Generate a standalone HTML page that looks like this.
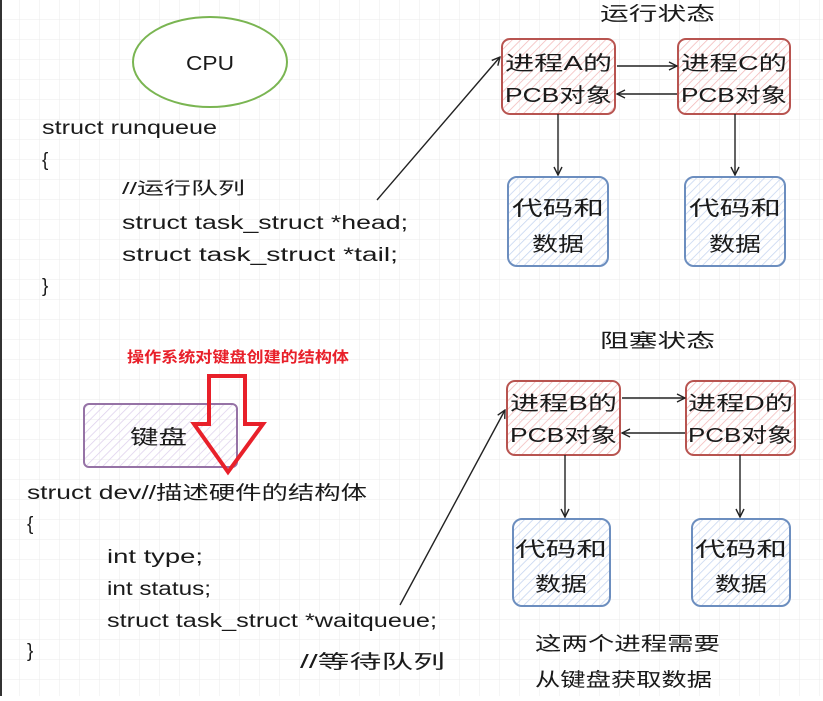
<!DOCTYPE html>
<html><head><meta charset="utf-8"><style>
body{margin:0;width:823px;height:696px;overflow:hidden;background:#fff;}
svg text{font-family:"Liberation Sans","Noto Sans CJK SC",sans-serif;fill:#1a1a1a;}
</style></head><body>
<svg width="823" height="696" viewBox="0 0 823 696" xmlns="http://www.w3.org/2000/svg">
<defs>
<pattern id="g" width="20" height="20" patternUnits="userSpaceOnUse"><path d="M20 0V20M0 20H20" fill="none" stroke="#ebebeb" stroke-width="1"/></pattern>
<pattern id="hr" width="6" height="6" patternUnits="userSpaceOnUse" patternTransform="rotate(45)"><line x1="0" y1="0" x2="0" y2="6" stroke="#f2b8b8" stroke-width="1.5"/></pattern>
<pattern id="hb" width="6" height="6" patternUnits="userSpaceOnUse" patternTransform="rotate(45)"><line x1="0" y1="0" x2="0" y2="6" stroke="#c3d3f0" stroke-width="1.5"/></pattern>
<pattern id="hp" width="6" height="6" patternUnits="userSpaceOnUse" patternTransform="rotate(45)"><line x1="0" y1="0" x2="0" y2="6" stroke="#ddd0ec" stroke-width="1.5"/></pattern>
<marker id="a" markerWidth="10" markerHeight="10" refX="9" refY="5" orient="auto" markerUnits="userSpaceOnUse"><path d="M1 1L9 5L1 9" fill="none" stroke="#222" stroke-width="1.4"/></marker>
</defs>
<rect width="823" height="696" fill="url(#g)"/>
<line x1="1" y1="0" x2="1" y2="696" stroke="#333" stroke-width="2"/>
<ellipse cx="210" cy="62" rx="77" ry="45" fill="#fff" stroke="#7ab552" stroke-width="2"/>
<text x="186" y="70" font-size="20" textLength="48" lengthAdjust="spacingAndGlyphs">CPU</text>
<g font-size="19" lengthAdjust="spacingAndGlyphs">
<text x="42" y="134" textLength="175" lengthAdjust="spacingAndGlyphs">struct runqueue</text>
<text x="42" y="166">{</text>
<text x="122" y="194" font-size="17" textLength="123" lengthAdjust="spacingAndGlyphs">//运行队列</text>
<text x="122" y="229" textLength="286" lengthAdjust="spacingAndGlyphs">struct task_struct *head;</text>
<text x="122" y="261" textLength="276" lengthAdjust="spacingAndGlyphs">struct task_struct *tail;</text>
<text x="42" y="292">}</text>
<text x="27" y="499" textLength="340" lengthAdjust="spacingAndGlyphs">struct dev//描述硬件的结构体</text>
<text x="27" y="530">{</text>
<text x="107" y="563" textLength="96" lengthAdjust="spacingAndGlyphs">int type;</text>
<text x="107" y="595" textLength="104" lengthAdjust="spacingAndGlyphs">int status;</text>
<text x="107" y="627" textLength="330" lengthAdjust="spacingAndGlyphs">struct task_struct *waitqueue;</text>
<text x="27" y="657">}</text>
<text x="300" y="668" textLength="145" lengthAdjust="spacingAndGlyphs">//等待队列</text>
<text x="535" y="650" textLength="185" lengthAdjust="spacingAndGlyphs">这两个进程需要</text>
<text x="535" y="686" textLength="177" lengthAdjust="spacingAndGlyphs">从键盘获取数据</text>
<text x="600" y="20" textLength="115" lengthAdjust="spacingAndGlyphs">运行状态</text>
<text x="600" y="347" textLength="115" lengthAdjust="spacingAndGlyphs">阻塞状态</text>
</g>
<g stroke-width="2">
<rect x="502" y="39" width="113" height="75" rx="8" fill="url(#hr)" stroke="#b85450"/>
<rect x="678" y="39" width="112" height="75" rx="8" fill="url(#hr)" stroke="#b85450"/>
<rect x="508" y="177" width="100" height="89" rx="9" fill="url(#hb)" stroke="#6c8ebf"/>
<rect x="685" y="177" width="100" height="89" rx="9" fill="url(#hb)" stroke="#6c8ebf"/>
<rect x="507" y="381" width="113" height="74" rx="8" fill="url(#hr)" stroke="#b85450"/>
<rect x="686" y="381" width="109" height="74" rx="8" fill="url(#hr)" stroke="#b85450"/>
<rect x="513" y="519" width="97" height="87" rx="9" fill="url(#hb)" stroke="#6c8ebf"/>
<rect x="692" y="519" width="98" height="87" rx="9" fill="url(#hb)" stroke="#6c8ebf"/>
<rect x="84" y="404" width="153" height="63" rx="5" fill="url(#hp)" stroke="#9673a6"/>
</g>
<g font-size="20">
<text x="505" y="70" textLength="107" lengthAdjust="spacingAndGlyphs">进程A的</text><text x="505" y="102" textLength="107" lengthAdjust="spacingAndGlyphs">PCB对象</text>
<text x="681" y="70" textLength="106" lengthAdjust="spacingAndGlyphs">进程C的</text><text x="681" y="102" textLength="106" lengthAdjust="spacingAndGlyphs">PCB对象</text>
<text x="512" y="215" textLength="92" lengthAdjust="spacingAndGlyphs">代码和</text><text x="532" y="251" textLength="52" lengthAdjust="spacingAndGlyphs">数据</text>
<text x="689" y="215" textLength="92" lengthAdjust="spacingAndGlyphs">代码和</text><text x="709" y="251" textLength="52" lengthAdjust="spacingAndGlyphs">数据</text>
<text x="510" y="410" textLength="107" lengthAdjust="spacingAndGlyphs">进程B的</text><text x="510" y="442" textLength="107" lengthAdjust="spacingAndGlyphs">PCB对象</text>
<text x="688" y="410" textLength="105" lengthAdjust="spacingAndGlyphs">进程D的</text><text x="688" y="442" textLength="105" lengthAdjust="spacingAndGlyphs">PCB对象</text>
<text x="515" y="556" textLength="92" lengthAdjust="spacingAndGlyphs">代码和</text><text x="535" y="591" textLength="52" lengthAdjust="spacingAndGlyphs">数据</text>
<text x="695" y="556" textLength="92" lengthAdjust="spacingAndGlyphs">代码和</text><text x="715" y="591" textLength="52" lengthAdjust="spacingAndGlyphs">数据</text>
<text x="130" y="444" textLength="57" lengthAdjust="spacingAndGlyphs">键盘</text>
</g>
<g stroke="#222" stroke-width="1.4" fill="none" marker-end="url(#a)">
<line x1="617" y1="66" x2="677" y2="66"/>
<line x1="677" y1="94" x2="617" y2="94"/>
<line x1="558" y1="114" x2="558" y2="175"/>
<line x1="735" y1="114" x2="735" y2="175"/>
<line x1="377" y1="200" x2="500" y2="57"/>
<line x1="622" y1="398" x2="685" y2="398"/>
<line x1="685" y1="433" x2="622" y2="433"/>
<line x1="565" y1="455" x2="565" y2="517"/>
<line x1="740" y1="455" x2="740" y2="517"/>
<line x1="400" y1="605" x2="505" y2="410"/>
</g>
<text x="127" y="362" font-size="15" font-weight="bold" textLength="222" lengthAdjust="spacingAndGlyphs" style="fill:#e8202a">操作系统对键盘创建的结构体</text>
<path d="M209 376H245V424H263L228 472L194 424H209Z" fill="none" stroke="#e8202a" stroke-width="4" stroke-linejoin="miter"/>
</svg>
</body></html>
